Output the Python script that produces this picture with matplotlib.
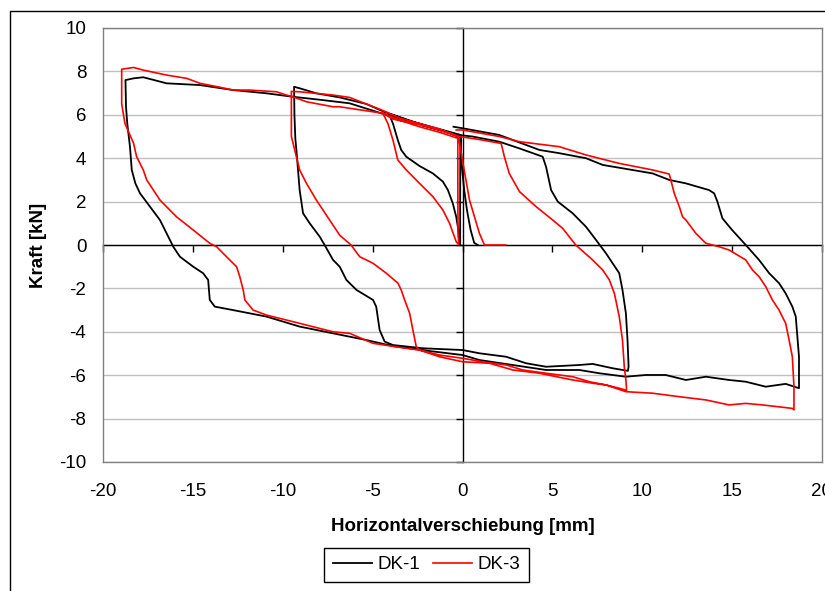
# Kraft-Verschiebungs-Hysterese DK-1 / DK-3

import matplotlib
matplotlib.use("Agg")
import matplotlib.pyplot as plt
from matplotlib.patches import Rectangle

plt.rcParams["font.family"] = ["Liberation Sans", "DejaVu Sans"]
plt.rcParams["axes.unicode_minus"] = False

# DK-1 (schwarz), Verschiebung [mm] / Kraft [kN]
dk1_x = [0.85, 0.65, 0.45, 0.25, 0.1, 0.0, -0.08, -0.08,
         -1.0, -2.2, -3.2, -4.1,
         -3.87, -3.6, -3.41, -3.13, -2.39, -1.65, -1.09, -0.81, -0.54, -0.35, -0.2, -0.13,
         -0.13, -0.12,
         -1.5, -3.0, -4.4, -5.35, -6.83, -8.13, -9.05, -9.37,
         -9.35, -9.3, -9.24, -9.15, -9.06, -8.87, -8.5, -7.94, -7.67, -7.2, -6.83, -6.46,
         -5.9, -4.98, -4.8, -4.61, -4.33, -3.87,
         -2.2, 0.0, 0.94, 2.43, 3.54, 4.65, 6.5, 7.24, 8.35, 9.2,
         9.24, 9.18, 9.09, 8.9, 8.72, 8.35, 7.98, 7.43, 6.87, 6.13, 5.3, 4.93, 4.65, 4.46,
         3.17, 2.05, 0.55, 0.0, -2.2, -4.06, -6.28, -8.0, -9.43, -10.9, -12.76, -14.6,
         -16.46, -17.76, -18.3, -18.75,
         -18.72, -18.65, -18.5, -18.4, -18.2, -17.94, -17.39, -16.83, -16.46, -16.09,
         -15.72, -14.98, -14.43, -14.15, -14.06, -13.78, -12.76, -10.9, -9.06, -7.2, -6.28,
         -5.35, -3.87, -2.2, 0.0, 0.94, 2.8, 4.65, 6.5, 7.61, 9.09, 10.2, 11.3, 12.43,
         13.54, 14.83, 15.76, 16.87, 17.98, 18.72,
         18.72, 18.63, 18.54, 18.35, 17.98, 17.61, 17.06, 16.5, 15.76, 15.0, 14.46, 14.18,
         14.0, 13.72,
         12.43, 11.5, 10.57, 7.8, 6.87, 5.39, 4.28, 2.05, 0.0, -0.5]
dk1_y = [0.0, 0.1, 0.7, 1.6, 2.5, 3.3, 4.3, 4.95,
         5.25, 5.5, 5.8, 6.05,
         5.6, 4.84, 4.38, 4.07, 3.64, 3.3, 2.92, 2.53, 1.92, 1.3, 0.54, 0.02,
         2.0, 5.0,
         5.35, 5.75, 6.15, 6.5, 6.8, 6.99, 7.22, 7.29,
         6.0, 4.9, 4.38, 3.46, 2.53, 1.46, 1.0, 0.38, 0.0, -0.69, -1.0, -1.61,
         -2.07, -2.53, -2.84, -3.92, -4.45, -4.61,
         -4.76, -4.84, -4.99, -5.15, -5.45, -5.61, -5.53, -5.48, -5.68, -5.8,
         -5.6, -4.38, -3.15, -2.07, -1.3, -0.84, -0.38, 0.23, 0.84, 1.46, 2.0, 2.53, 3.6, 4.07,
         4.45, 4.76, 5.0, 5.05, 5.55, 5.95, 6.53, 6.7, 6.83, 6.99, 7.14, 7.37,
         7.45, 7.73, 7.68, 7.6,
         6.37, 5.6, 4.53, 3.46, 2.84, 2.38, 1.77, 1.15, 0.54, -0.08,
         -0.54, -1.0, -1.3, -1.61, -2.53, -2.84, -3.0, -3.3, -3.76, -4.07, -4.22,
         -4.38, -4.66, -4.85, -5.07, -5.3, -5.53, -5.76, -5.76, -5.91, -6.07, -5.99, -5.99, -6.22,
         -6.07, -6.22, -6.3, -6.53, -6.4, -6.6,
         -5.15, -4.22, -3.3, -2.84, -2.23, -1.76, -1.3, -0.69, 0.0, 0.69, 1.23, 2.0,
         2.38, 2.53,
         2.84, 3.0, 3.3, 3.69, 4.0, 4.23, 4.38, 5.07, 5.38, 5.45]

# DK-3 (rot)
dk3_x = [2.4, 1.22, 0.94, 0.39, -0.04, -0.2,
         -1.3, -2.4, -3.5, -4.43,
         -4.15, -3.87, -3.6, -3.13, -2.39, -1.65, -1.09, -0.72, -0.35, -0.2,
         -0.25, -0.26, -0.26,
         -1.3, -2.4, -3.5, -4.43, -6.28, -7.2, -9.06, -9.52,
         -9.52, -9.24, -9.06, -8.68, -8.13, -7.39, -6.83, -6.2, -5.72, -4.98, -4.24, -3.59,
         -3.41, -3.22, -2.94, -2.76, -2.57,
         -2.39, -1.28, 0.0, 1.11, 2.43, 3.35, 4.65, 6.13, 7.06, 7.98, 8.72, 9.13,
         9.09, 9.0, 8.9, 8.72, 8.45, 8.17, 7.8, 7.24, 6.3, 5.57, 5.02, 4.09, 3.17, 2.6,
         2.33, 2.15,
         1.0, -0.17, -1.3, -2.4, -3.87, -4.43, -6.83, -7.2, -8.68, -9.43, -9.8, -10.35,
         -11.83, -12.76, -13.68, -14.6, -15.35, -16.46, -17.76, -18.3, -18.96,
         -18.96, -18.96, -18.78, -18.3, -18.13, -17.76, -17.57, -16.83, -15.91, -14.98,
         -14.06, -13.68, -13.13, -12.57, -12.39, -12.2, -12.11, -11.65, -10.9, -9.06, -7.2,
         -6.28,
         -4.98, -3.13, -2.39, -1.28, 0.0, 1.5, 2.8, 4.28, 6.13, 7.24, 7.98, 9.09, 10.57,
         12.06, 13.54, 14.83, 15.76, 16.69, 18.35, 18.44,
         18.44, 18.35, 18.17, 17.98, 17.61, 17.24, 16.87, 16.5, 16.13, 15.76, 14.83, 14.28,
         13.9, 13.54, 12.98, 12.43, 12.24, 12.06, 11.78, 11.59, 11.5,
         10.57, 8.72, 6.87, 5.39, 3.17, 2.05, 0.0, -0.35]
dk3_y = [0.0, 0.0, 0.54, 2.07, 4.07, 4.9,
         5.2, 5.45, 5.75, 6.07,
         5.6, 4.84, 3.92, 3.46, 2.84, 2.23, 1.61, 1.0, 0.15, 0.02,
         0.5, 3.0, 5.0,
         5.35, 5.6, 5.85, 6.2, 6.8, 6.91, 7.06, 7.08,
         5.0, 4.07, 3.46, 2.84, 2.07, 1.15, 0.45, 0.0, -0.54, -0.84, -1.3, -1.76,
         -2.07, -2.53, -3.15, -3.92, -4.69,
         -4.84, -5.07, -5.22, -5.38, -5.53, -5.76, -5.91, -6.07, -6.3, -6.45, -6.6, -6.7,
         -6.22, -5.61, -4.38, -3.3, -2.23, -1.61, -1.15, -0.69, 0.0, 0.77, 1.15, 1.77, 2.46, 3.3,
         4.07, 4.68,
         4.85, 5.0, 5.3, 5.55, 5.8, 6.07, 6.37, 6.37, 6.6, 6.83, 6.91, 7.06,
         7.14, 7.14, 7.3, 7.45, 7.68, 7.83, 8.06, 8.18, 8.1,
         7.0, 6.5, 5.6, 4.69, 4.07, 3.46, 3.0, 2.07, 1.3, 0.69,
         0.08, -0.08, -0.54, -1.0, -1.46, -2.07, -2.53, -3.0, -3.23, -3.61, -4.0,
         -4.07,
         -4.53, -4.76, -4.84, -5.15, -5.38, -5.45, -5.76, -5.91, -6.22, -6.37, -6.45, -6.76, -6.83,
         -6.99, -7.14, -7.37, -7.3, -7.37, -7.53, -7.6,
         -6.53, -5.15, -4.38, -3.61, -3.0, -2.53, -1.92, -1.46, -1.15, -0.69, -0.23, -0.08,
         0.0, 0.08, 0.54, 1.15, 1.3, 1.77, 2.38, 3.0, 3.27,
         3.46, 3.76, 4.15, 4.53, 4.76, 5.0, 5.3, 5.3]

x_ticks = [-20, -15, -10, -5, 0, 5, 10, 15, 20]
y_ticks = [-10, -8, -6, -4, -2, 0, 2, 4, 6, 8, 10]

W, H = 825, 591
fig = plt.figure(figsize=(W / 100, H / 100), dpi=100)
pos = [103 / W, 1 - 462 / H, 719 / W, 434 / H]

# background axes: grid + axes crossing at zero
ax0 = fig.add_axes(pos)
ax0.set_xlim(-20, 20)
ax0.set_ylim(-10, 10)
ax0.set_xticks(x_ticks)
ax0.set_yticks(y_ticks)
ax0.grid(axis="y", color="#c0c0c0", lw=1)
ax0.set_axisbelow(True)
ax0.spines["left"].set_position(("data", 0))
ax0.spines["bottom"].set_position(("data", 0))
ax0.spines["top"].set_visible(False)
ax0.spines["right"].set_visible(False)
for s in ("left", "bottom"):
    ax0.spines[s].set_color("black")
    ax0.spines[s].set_linewidth(1)
ax0.tick_params(direction="out", length=5, width=1, color="black",
                labelbottom=False, labelleft=False)

# front axes: data, frame, tick labels
ax = fig.add_axes(pos, facecolor="none")
ax.set_xlim(-20, 20)
ax.set_ylim(-10, 10)
ax.set_xticks(x_ticks)
ax.set_yticks(y_ticks)
for s in ax.spines.values():
    s.set_color("#808080")
    s.set_linewidth(1)
ax.tick_params(axis="x", length=0, labelsize=13.5, pad=15)
ax.tick_params(axis="y", length=0, labelsize=13.5, pad=12)

ax.plot(dk1_x, dk1_y, color="black", lw=1.3, label="DK-1")
ax.plot(dk3_x, dk3_y, color="red", lw=1.2, label="DK-3")

ax.set_xlabel("Horizontalverschiebung [mm]", fontsize=13.5, fontweight="bold")
ax.set_ylabel("Kraft [kN]", fontsize=13.5, fontweight="bold")
ax.xaxis.set_label_coords(0.5, (462 - 518) / 434)
ax.yaxis.set_label_coords((47 - 103) / 719, 0.5)

leg = fig.legend(loc="center", bbox_to_anchor=(426.5 / W, 1 - 564.5 / H), ncol=2,
                 fontsize=13.5, frameon=True, fancybox=False, edgecolor="black",
                 framealpha=1, handlelength=2.1, handletextpad=0.3,
                 columnspacing=0.65, borderpad=0.45)
leg.get_frame().set_linewidth(1)

# chart area border (cut at right and bottom)
fig.patches.append(Rectangle((9.5 / W, -0.5), 2, 1 - 10.5 / H + 0.5, transform=fig.transFigure,
                             fill=False, edgecolor="black", lw=1))

fig.savefig("out.png", dpi=100)
